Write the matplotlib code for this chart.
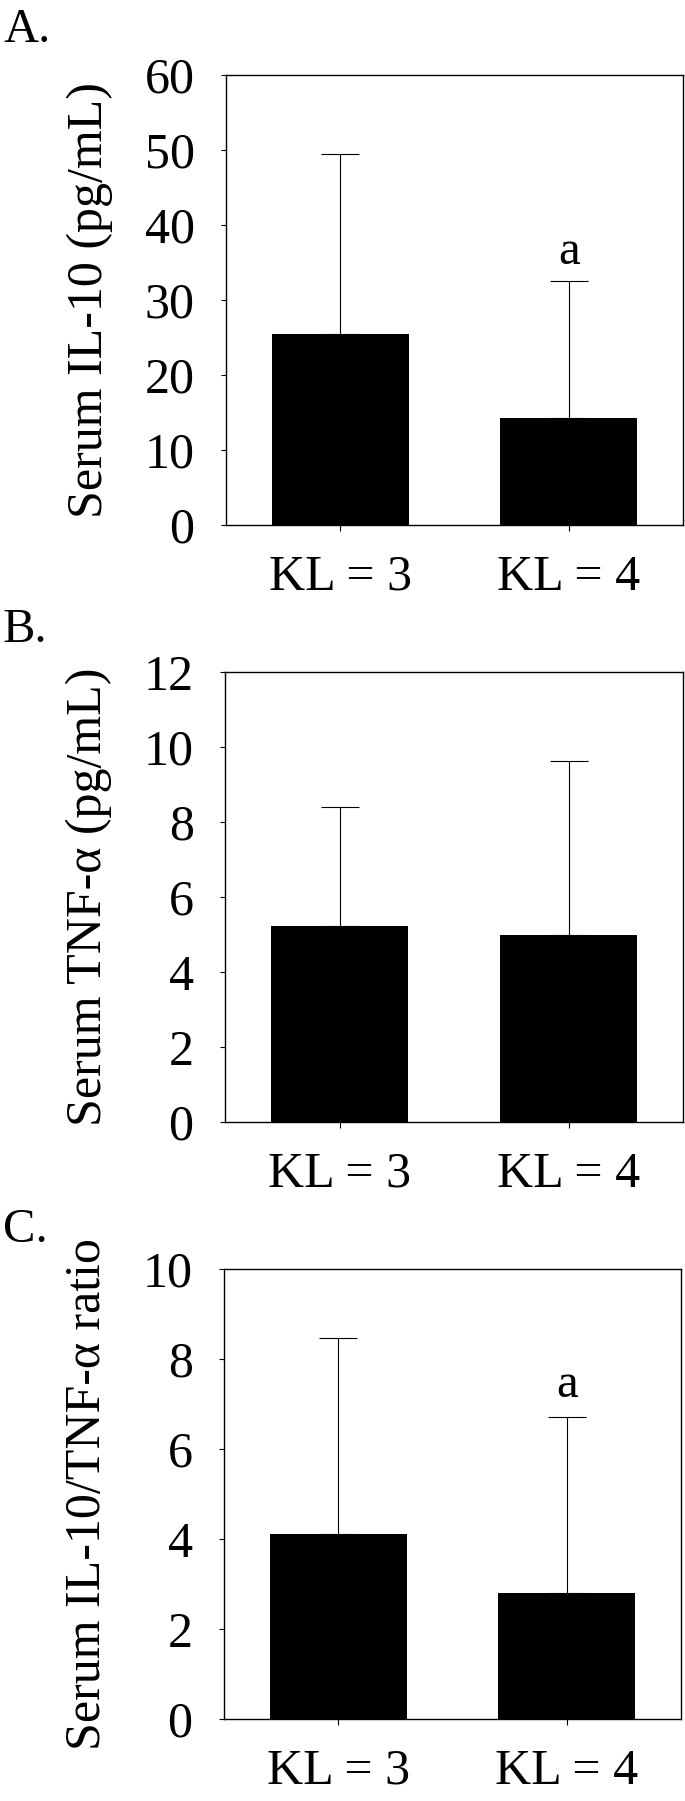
import numpy as np
import matplotlib
matplotlib.use("Agg")
import matplotlib.pyplot as plt

plt.rcParams['font.family'] = ['Liberation Serif', 'DejaVu Serif']

# data
groups = ["KL = 3", "KL = 4"]

il10_mean = [25.5, 14.2]
il10_sd = [24.0, 18.3]

tnf_mean = [5.22, 4.98]
tnf_sd = [3.18, 4.64]

ratio_mean = [4.11, 2.80]
ratio_sd = [4.35, 3.92]

panels = [
    ("A.", il10_mean, il10_sd, "Serum IL-10 (pg/mL)", 60, 10, 34.8),
    ("B.", tnf_mean, tnf_sd, "Serum TNF-\u03b1 (pg/mL)", 12, 2, None),
    ("C.", ratio_mean, ratio_sd, "Serum IL-10/TNF-\u03b1 ratio", 10, 2, 7.15),
]

# axes boxes in pixels (left, right, top, bottom) of the 685x1801 canvas
boxes = [(226, 683, 75, 525), (225, 683, 672, 1122), (224, 681, 1269, 1719)]
letter_base = [42, 642, 1242]

W, H = 685, 1801
fig = plt.figure(figsize=(W / 100, H / 100), dpi=100)

for (letter, means, sds, ylab, ymax, step, sig_y), (l, r, t, b), lb in zip(panels, boxes, letter_base):
    ax = fig.add_axes([l / W, 1 - b / H, (r - l) / W, (b - t) / H])
    x = np.arange(len(groups))
    ax.bar(x, means, width=0.6, color='black', zorder=2)
    ax.errorbar(x, means, yerr=[np.zeros(len(sds)), sds], fmt='none', ecolor='black',
                elinewidth=0.8, capsize=13.7, capthick=0.8, zorder=1)
    ax.set_xlim(-0.5, 1.5)
    ax.set_ylim(0, ymax)
    ax.set_yticks(np.arange(0, ymax + step / 2, step))
    ax.set_xticks(x)
    ax.set_xticklabels(groups, fontsize=36)
    ax.tick_params(axis='y', labelsize=36, direction='out', length=3.6, width=0.8, pad=19)
    ax.tick_params(axis='x', direction='out', length=4.5, width=0.8, pad=16.5)
    for sp in ax.spines.values():
        sp.set_linewidth(1.0)
    ax.set_ylabel(ylab, fontsize=36)
    ax.yaxis.set_label_coords(-0.247, 0.5)
    if sig_y is not None:
        ax.text(1, sig_y, "a", ha='center', va='baseline', fontsize=35)
    fig.text(3 / W, 1 - lb / H, letter, ha='left', va='baseline', fontsize=35)

fig.savefig("out.png", dpi=100)
